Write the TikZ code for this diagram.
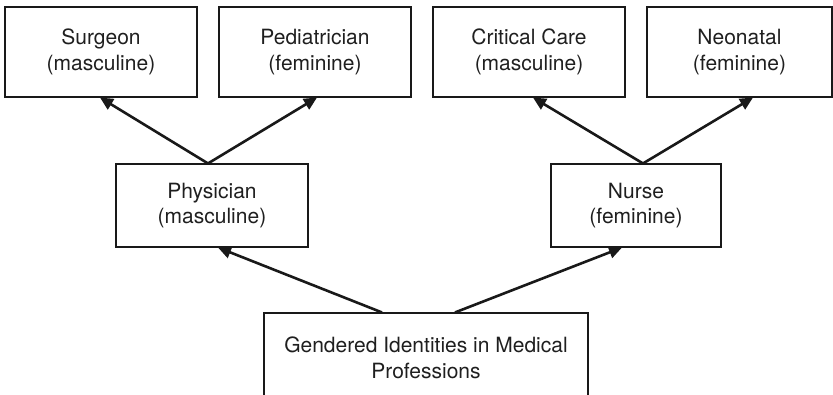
\documentclass[tikz,border=0pt]{standalone}
\usepackage{fontspec}
\setmainfont{TeX Gyre Heros}
\usepackage{tikz}
\usetikzlibrary{arrows.meta}

\tikzset{
    rolebox/.style={draw=black!90, line width=1.1pt, minimum width=192pt, minimum height=90pt,
        inner sep=0pt, align=center, text=black!88, font=\fontsize{21}{25.5}\selectfont},
    midbox/.style={rolebox, minimum height=83pt},
    linkarrow/.style={-{Triangle[length=13pt,width=12pt]}, line width=2.6pt, draw=black!90}
}

\begin{document}
\begin{tikzpicture}[x=1pt, y=-1pt]
    % Fix the frame of the picture
    \clip (0,0) rectangle (833,394);

    % Top row: specialities
    \node[rolebox] (surgeon) at (101,52) {Surgeon\\(masculine)};
    \node[rolebox] (pediatrician) at (315,52) {Pediatrician\\(feminine)};
    \node[rolebox] (critical) at (529,52) {Critical Care\\(masculine)};
    \node[rolebox, minimum width=185pt] (neonatal) at (739.5,52) {Neonatal\\(feminine)};

    % Middle row: professions
    \node[midbox] (physician) at (212,205.5) {Physician\\(masculine)};
    \node[midbox, minimum width=170pt] (nurse) at (636,205.5) {Nurse\\(feminine)};

    % Bottom: root of the tree
    \node[rolebox, minimum width=324pt] (gendered) at (426,358) {Gendered Identities in Medical\\Professions};

    % Arrows from the root up to the professions
    \draw[linkarrow] ([xshift=-44pt]gendered.north) -- ([xshift=6pt]physician.south);
    \draw[linkarrow] ([xshift=29pt]gendered.north) -- ([xshift=-14pt]nurse.south);

    % Arrows from the professions up to the specialities
    \draw[linkarrow] ([xshift=-4pt]physician.north) -- ([xshift=-1pt]surgeon.south);
    \draw[linkarrow] ([xshift=-4pt]physician.north) -- ([xshift=2pt]pediatrician.south);
    \draw[linkarrow] ([xshift=7pt]nurse.north) -- ([xshift=4pt]critical.south);
    \draw[linkarrow] ([xshift=7pt]nurse.north) -- ([xshift=13.5pt]neonatal.south);
\end{tikzpicture}
\end{document}
